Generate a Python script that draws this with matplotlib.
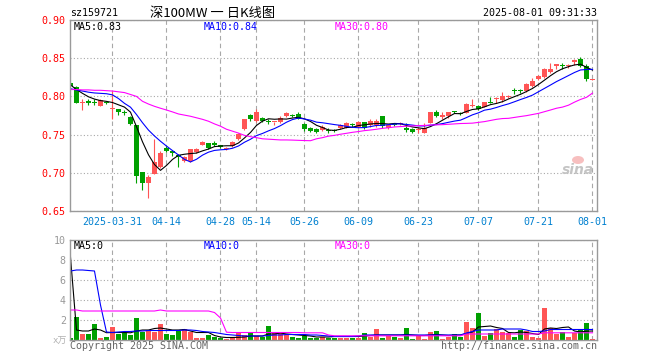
import numpy as np
import matplotlib
matplotlib.use("Agg")
from matplotlib import pyplot as plt
from matplotlib.patches import Ellipse

W, H = 660, 360
RED = "#ff5555"
GREEN = "#00a000"
GRID = "#a8a8a8"
MONO = "DejaVu Sans Mono"
CJK = ["Noto Sans CJK SC", "DejaVu Sans"]

# daily candles (88 trading days)
opens = [.818, .812, .792, .794, .793, .787, .793, .784, .783, .780,
         .773, .763, .7015, .686, .698, .708, .733, .728, .7235, .716,
         .7155, .727, .737, .7395, .7385, .736, .731, .735, .744, .757,
         .7757, .768, .772, .768, .766, .766, .7745, .776, .777, .764,
         .759, .757, .756, .7555, .755, .758, .759, .7625, .760, .766,
         .762, .763, .7745, .758, .763, .7634, .758, .757, .7555, .7517,
         .7656, .779, .7726, .775, .7805, .778, .7787, .788, .7874, .7866,
         .7925, .7972, .7953, .7988, .8085, .808, .8071, .8136, .8228, .825,
         .8324, .8398, .8405, .840, .8446, .8485, .8402, .8212]
highs = [.819, .813, .796, .797, .796, .797, .794, .807, .784, .782,
         .774, .763, .7015, .697, .744, .729, .735, .729, .7245, .722,
         .731, .7325, .742, .7395, .741, .736, .734, .741, .7525, .771,
         .777, .783, .773, .770, .767, .775, .7795, .777, .779, .765,
         .760, .758, .762, .758, .757, .7635, .766, .765, .768, .767,
         .770, .770, .7745, .763, .764, .766, .765, .758, .7595, .7656,
         .780, .7817, .779, .780, .781, .779, .791, .7966, .789, .793,
         .799, .7996, .806, .802, .8106, .8095, .817, .8237, .828, .837,
         .8442, .8424, .8433, .8424, .8485, .8511, .8424, .8225]
lows = [.813, .792, .782, .789, .789, .787, .790, .771, .776, .776,
        .763, .687, .678, .667, .698, .706, .727, .722, .708, .714,
        .7145, .726, .736, .7307, .735, .732, .730, .734, .743, .756,
        .768, .767, .766, .764, .762, .765, .773, .773, .770, .7545,
        .754, .752, .7545, .7525, .753, .757, .758, .760, .758, .757,
        .760, .7605, .759, .757, .761, .763, .754, .7525, .752, .7517,
        .765, .7735, .7705, .772, .778, .776, .778, .7866, .7822, .786,
        .791, .7918, .7931, .7985, .8031, .805, .806, .8127, .822, .8237,
        .8311, .8359, .8359, .837, .8411, .838, .8202, .821]
closes = [.814, .792, .793, .791, .791, .795, .791, .785, .779, .778,
          .764, .696, .686, .694, .714, .726, .728, .7255, .721, .721,
          .7307, .731, .740, .733, .737, .734, .733, .740, .751, .770,
          .770, .779, .768, .7665, .767, .772, .778, .775, .771, .757,
          .755, .753, .7605, .7545, .7545, .7625, .7647, .762, .766, .759,
          .768, .768, .761, .7625, .7625, .7656, .756, .753, .7565, .758,
          .779, .775, .7757, .779, .7795, .7775, .7896, .789, .7831, .7922,
          .792, .7975, .8005, .801, .8075, .807, .8162, .8202, .8271, .8359,
          .8359, .8424, .8398, .8405, .8476, .8402, .8223, .8218]

ma5 = [.815, .809, .804, .7995, .7965, .7945, .7935, .792, .789, .786,
       .7794, .7604, .7406, .7236, .7108, .7032, .7096, .7175, .7229, .7243,
       .7252, .7258, .7287, .7311, .7343, .735, .7354, .7354, .739, .7456,
       .7528, .762, .7676, .7707, .7701, .7705, .7703, .7717, .7726, .7706,
       .7672, .7622, .7593, .756, .7555, .757, .7593, .7596, .7619, .7628,
       .7639, .7646, .7645, .7638, .7646, .7643, .7619, .760, .7588, .7578,
       .7605, .7643, .7688, .7733, .7776, .7773, .7803, .7829, .7837, .7863,
       .7892, .7908, .7931, .7966, .7997, .8027, .8064, .8104, .8156, .8213,
       .8271, .8323, .8362, .8389, .8412, .8421, .8381, .8345]
ma10 = [.810, .8085, .807, .8055, .8045, .804, .8035, .802, .7972, .7909,
        .7859, .7763, .7656, .7559, .7482, .7413, .735, .7291, .7233, .7176,
        .7142, .7177, .7231, .727, .7293, .7301, .7306, .7321, .7351, .740,
        .7439, .7487, .7515, .7549, .7579, .7617, .7662, .7697, .7717, .7704,
        .7689, .7663, .7655, .7643, .7631, .7621, .7608, .7595, .759, .7592,
        .7605, .762, .7622, .763, .7638, .7641, .7633, .7624, .7614, .7613,
        .7624, .7631, .7644, .7661, .7677, .7689, .7723, .7759, .7785, .782,
        .7833, .7855, .788, .7902, .793, .7959, .7986, .8017, .8061, .8105,
        .8149, .8194, .8233, .8273, .8313, .8346, .8352, .8354]
ma30 = [.809, .809, .8085, .8085, .808, .808, .8075, .807, .806, .805,
        .8025, .800, .7936, .790, .787, .7845, .7822, .7797, .777, .7755,
        .774, .772, .770, .7675, .764, .761, .757, .7545, .752, .749,
        .7473, .746, .7445, .744, .7435, .743, .743, .7428, .7425, .7422,
        .742, .7445, .746, .748, .749, .7505, .7517, .753, .754, .7552,
        .756, .757, .7582, .759, .760, .7605, .761, .7613, .7618, .762,
        .7625, .7628, .763, .7635, .764, .7645, .7647, .765, .766, .767,
        .7685, .770, .771, .7713, .7725, .7737, .7748, .7763, .7778, .780,
        .7822, .7845, .786, .7885, .7925, .796, .7988, .8043]

# volume in 万 (10k)
volumes = [0.23, 2.33, 0.6, 0.6, 1.6, 0.23, 0.33, 1.33, 0.6, 0.73,
           0.5, 2.23, 0.83, 1.0, 0.83, 1.6, 0.6, 0.5, 0.93, 1.1,
           0.77, 0.23, 0.23, 0.5, 0.33, 0.17, 0.1, 0.17, 0.67, 0.5,
           0.77, 0.4, 0.33, 1.4, 0.67, 0.77, 0.5, 0.33, 0.23, 0.4,
           0.23, 0.23, 0.33, 0.17, 0.23, 0.23, 0.23, 0.23, 0.23, 0.73,
           0.33, 1.1, 0.23, 0.43, 0.33, 0.23, 1.23, 0.1, 0.4, 0.1,
           0.8, 0.9, 0.1, 0.33, 0.6, 0.33, 1.83, 1.23, 2.73, 0.43,
           0.67, 1.1, 0.83, 0.67, 0.33, 1.0, 0.93, 0.33, 0.23, 3.23,
           1.23, 0.6, 0.77, 0.33, 0.67, 1.0, 1.73, 0.1]
vol_ma5 = [8.3, 1.0, 0.9, 0.9, 1.1, 1.0, 0.73, 0.75, 0.75, 0.75,
           0.72, 0.9, 1.0, 1.0, 1.15, 1.2, 1.1, 1.0, 1.0, 1.05,
           0.9, 0.75, 0.75, 0.75, 0.45, 0.3, 0.25, 0.25, 0.27, 0.3,
           0.4, 0.4, 0.4, 0.6, 0.6, 0.7, 0.6, 0.55, 0.5, 0.45,
           0.4, 0.3, 0.3, 0.3, 0.35, 0.35, 0.35, 0.35, 0.35, 0.4,
           0.45, 0.5, 0.5, 0.5, 0.5, 0.5, 0.55, 0.5, 0.45, 0.45,
           0.5, 0.55, 0.5, 0.45, 0.5, 0.5, 0.65, 0.8, 1.3, 1.35,
           1.4, 1.25, 1.15, 0.75, 0.72, 0.8, 0.75, 0.65, 0.55, 1.1,
           1.2, 1.15, 1.25, 1.3, 0.9, 0.8, 0.88, 0.9]
vol_ma10 = [6.9, 7.0, 7.0, 6.95, 6.9, 3.5, 0.8, 0.75, 0.8, 0.85,
            0.85, 0.9, 0.9, 0.95, 0.95, 0.95, 0.95, 0.95, 0.95, 1.0,
            1.0, 0.95, 0.85, 0.8, 0.75, 0.65, 0.55, 0.5, 0.45, 0.4,
            0.4, 0.4, 0.4, 0.45, 0.5, 0.5, 0.55, 0.55, 0.55, 0.55,
            0.5, 0.5, 0.45, 0.4, 0.35, 0.35, 0.35, 0.35, 0.4, 0.5,
            0.5, 0.5, 0.5, 0.5, 0.5, 0.5, 0.5, 0.5, 0.5, 0.5,
            0.5, 0.5, 0.5, 0.5, 0.5, 0.5, 0.7, 0.85, 1.0, 1.0,
            1.0, 1.0, 1.1, 1.1, 1.1, 1.1, 1.0, 0.85, 0.85, 0.9,
            1.05, 1.05, 1.05, 1.05, 1.05, 1.05, 1.05, 1.05]
vol_ma30 = [3.0, 3.0, 2.9, 2.9, 2.9, 2.9, 2.9, 2.9, 2.9, 2.9,
            2.9, 2.9, 2.9, 2.9, 2.9, 3.0, 2.9, 2.9, 2.9, 2.9,
            2.9, 2.9, 2.9, 2.9, 2.75, 2.2, 0.78, 0.75, 0.75, 0.75,
            0.75, 0.75, 0.75, 0.75, 0.75, 0.75, 0.75, 0.75, 0.75, 0.72,
            0.72, 0.72, 0.72, 0.5, 0.42, 0.42, 0.42, 0.42, 0.42, 0.42,
            0.42, 0.42, 0.42, 0.42, 0.42, 0.42, 0.42, 0.42, 0.42, 0.42,
            0.42, 0.42, 0.42, 0.42, 0.42, 0.42, 0.6, 0.6, 0.6, 0.6,
            0.6, 0.6, 0.6, 0.6, 0.6, 0.6, 0.6, 0.6, 0.6, 0.72,
            0.72, 0.72, 0.72, 0.72, 0.72, 0.72, 0.72, 0.72]

tick_idx = [7, 16, 25, 31, 39, 48, 58, 68, 78, 87]
tick_labels = ["2025-03-31", "04-14", "04-28", "05-14", "05-26",
               "06-09", "06-23", "07-07", "07-21", "08-01"]
price_ticks = [0.65, 0.70, 0.75, 0.80, 0.85, 0.90]
vol_ticks = [2, 4, 6, 8, 10]


def px_rect(x0, y0, x1, y1):
    return [x0 / W, 1 - y1 / H, (x1 - x0) / W, (y1 - y0) / H]


def ftext(x, y, s, **kw):
    kw.setdefault("family", MONO)
    kw.setdefault("size", 7.2)
    kw.setdefault("va", "center")
    fig.text(x / W, 1 - y / H, s, **kw)


def style_axes(ax):
    for sp in ax.spines.values():
        sp.set_color("#9a9a9a")
        sp.set_linewidth(1.0)
    ax.set_xlim(-0.08, 87.75)
    ax.set_xticks(tick_idx)
    ax.xaxis.grid(True, linestyle=(0, (4, 3)), color=GRID, lw=0.8)
    ax.yaxis.grid(True, linestyle=(0, (1, 2)), color=GRID, lw=0.8)
    ax.set_axisbelow(True)
    ax.tick_params(length=0)


fig = plt.figure(figsize=(W / 100, H / 100), dpi=100)
ax = fig.add_axes(px_rect(70, 20, 597, 211))
axv = fig.add_axes(px_rect(70, 240, 597, 340))

x = np.arange(len(closes))
o = np.array(opens)
c = np.array(closes)
colors = np.where(c >= o, RED, GREEN)

# price panel
ax.vlines(x, lows, highs, colors=colors, lw=0.8)
body_h = np.maximum(np.abs(c - o), 0.0013)
ax.bar(x, body_h, bottom=np.minimum(o, c), width=0.8, color=colors, lw=0)
ax.plot(x, ma5, color="black", lw=0.8)
ax.plot(x, ma10, color="#0000ff", lw=0.8)
ax.plot(x, ma30, color="#ff00ff", lw=0.8)
style_axes(ax)
ax.set_ylim(0.65, 0.90)
ax.set_yticks(price_ticks)
ax.set_yticklabels([f"{t:.2f}" for t in price_ticks], family=MONO,
                   size=7.2, color="#ff0000")
ax.set_xticklabels(tick_labels, family=MONO, size=7.2, color="#0080d0")
ax.tick_params(axis="y", pad=3)
ax.tick_params(axis="x", pad=4)

# volume panel
axv.bar(x, volumes, width=0.85, color=colors, lw=0)
axv.plot(x, vol_ma5, color="black", lw=0.8)
axv.plot(x, vol_ma10, color="#0000ff", lw=0.8)
axv.plot(x, vol_ma30, color="#ff00ff", lw=0.8)
style_axes(axv)
axv.set_ylim(0, 10)
axv.set_yticks(vol_ticks)
axv.set_yticklabels([str(t) for t in vol_ticks], family=MONO, size=7.2,
                    color="#999999")
axv.tick_params(axis="y", pad=3)
axv.set_xticklabels([])

# header and legends
ftext(70, 13, "sz159721", color="black")
ftext(150, 13, "深100MW 一 日K线图", family=CJK, size=9.5, color="black")
ftext(597, 13, "2025-08-01 09:31:33", ha="right", color="black")
ftext(74, 27, "MA5:0.83", color="black")
ftext(204, 27, "MA10:0.84", color="#0000ff")
ftext(335, 27, "MA30:0.80", color="#ff00ff")
ftext(74, 246, "MA5:0", color="black")
ftext(204, 246, "MA10:0", color="#0000ff")
ftext(335, 246, "MA30:0", color="#ff00ff")
ftext(67, 341, "x万", ha="right", color="#b0b0b0",
      family=[MONO, "Noto Sans CJK SC"], size=6.5)
ftext(70, 346, "Copyright 2025 SINA.COM", color="#666666")
ftext(597, 346, "http://finance.sina.com.cn", ha="right", color="#666666")

# sina watermark
fig.patches.append(Ellipse((578 / W, 1 - 160 / H), 12 / W, 8 / H,
                           transform=fig.transFigure, facecolor="#f6b0b0",
                           edgecolor="none", alpha=0.8))
ftext(578, 170, "sina", ha="center", family="DejaVu Sans", size=10,
      weight="bold", style="italic", color="#c4c4c4")

fig.savefig("out.png", dpi=100)
